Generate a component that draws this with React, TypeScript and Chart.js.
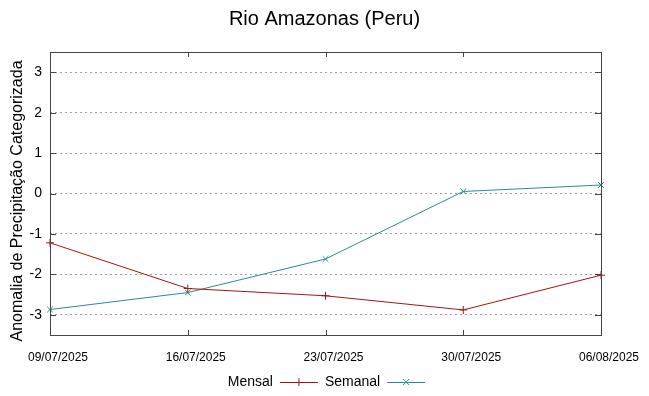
import React, { useEffect, useRef } from "react";
import { Chart, registerables } from "chart.js";

Chart.register(...registerables);

const categories = ["09/07/2025", "16/07/2025", "23/07/2025", "30/07/2025", "06/08/2025"];
const mensalValues = [-1.22, -2.35, -2.53, -2.88, -2.02];
const semanalValues = [-2.87, -2.45, -1.62, 0.05, 0.21];
const yTicks = [-3, -2, -1, 0, 1, 2, 3];

const TITLE = "Rio Amazonas (Peru)";
const Y_TITLE = "Anomalia de Precipitação Categorizada";
const FONT = "'Liberation Sans', Arial, sans-serif";
const RED = "#a31515";
const TEAL = "#2b8c8c";

const framePlugin = {
  id: "frame",
  afterDraw(chart: any) {
    const ctx = chart.ctx;
    const a = chart.chartArea;
    const xs = chart.scales.x;
    const ys = chart.scales.y;
    ctx.save();
    ctx.strokeStyle = "#444";
    ctx.lineWidth = 1;
    ctx.strokeRect(Math.round(a.left) + 0.5, Math.round(a.top) + 0.5, Math.round(a.right - a.left), Math.round(a.bottom - a.top));
    ctx.beginPath();
    yTicks.forEach((v) => {
      const y = Math.round(ys.getPixelForValue(v)) + 0.5;
      ctx.moveTo(a.left, y);
      ctx.lineTo(a.left + 6, y);
      ctx.moveTo(a.right, y);
      ctx.lineTo(a.right - 6, y);
    });
    categories.forEach((_, i) => {
      const x = Math.round(xs.getPixelForTick(i)) + 0.5;
      ctx.moveTo(x, a.bottom);
      ctx.lineTo(x, a.bottom - 5);
      ctx.moveTo(x, a.top);
      ctx.lineTo(x, a.top + 5);
    });
    ctx.stroke();

    ctx.fillStyle = "#000";
    ctx.font = "20px " + FONT;
    ctx.textAlign = "center";
    ctx.textBaseline = "middle";
    ctx.fillText(TITLE, chart.width / 2, 19);

    ctx.save();
    ctx.translate(18, 201);
    ctx.rotate(-Math.PI / 2);
    ctx.font = "16px " + FONT;
    ctx.fillText(Y_TITLE, 0, 0);
    ctx.restore();

    ctx.font = "14px " + FONT;
    const sample = 38;
    const gap = 7;
    const items = chart.data.datasets.map((d: any) => ({
      label: d.label,
      color: d.borderColor,
      style: d.pointStyle,
      w: ctx.measureText(d.label).width,
    }));
    const total = items.reduce((s: number, it: any) => s + it.w + gap + sample, 0) + gap * (items.length - 1);
    let x = chart.width / 2 - total / 2 + 2;
    const ly = 382;
    items.forEach((it: any) => {
      ctx.fillStyle = "#000";
      ctx.textAlign = "left";
      ctx.fillText(it.label, x, ly);
      x += it.w + gap;
      ctx.strokeStyle = it.color;
      ctx.lineWidth = 1;
      ctx.beginPath();
      ctx.moveTo(x, ly + 0.5);
      ctx.lineTo(x + sample, ly + 0.5);
      const cx = x + sample / 2;
      const r = 4;
      if (it.style === "cross") {
        ctx.moveTo(cx, ly - r);
        ctx.lineTo(cx, ly + r);
      } else {
        ctx.moveTo(cx - r * 0.75, ly - r * 0.75);
        ctx.lineTo(cx + r * 0.75, ly + r * 0.75);
        ctx.moveTo(cx + r * 0.75, ly - r * 0.75);
        ctx.lineTo(cx - r * 0.75, ly + r * 0.75);
      }
      ctx.stroke();
      x += sample + gap;
    });
    ctx.restore();
  },
};

export default function App() {
  const ref = useRef<HTMLCanvasElement | null>(null);
  useEffect(() => {
    document.body.style.margin = "0";
    const c = new Chart(ref.current as HTMLCanvasElement, {
      type: "line",
      data: {
        labels: categories,
        datasets: [
          {
            label: "Mensal",
            data: mensalValues,
            borderColor: RED,
            backgroundColor: RED,
            borderWidth: 1,
            pointStyle: "cross",
            pointRadius: 4,
            pointBorderWidth: 1,
            tension: 0,
          },
          {
            label: "Semanal",
            data: semanalValues,
            borderColor: TEAL,
            backgroundColor: TEAL,
            borderWidth: 1,
            pointStyle: "crossRot",
            pointRadius: 4,
            pointBorderWidth: 1,
            tension: 0,
          },
        ],
      },
      options: {
        animation: false,
        responsive: true,
        maintainAspectRatio: false,
        layout: { padding: { top: 52, right: 48, bottom: 0, left: 0 } },
        plugins: {
          legend: { display: false },
          title: { display: false },
          tooltip: { enabled: false },
        },
        scales: {
          x: {
            type: "category",
            offset: false,
            grid: { display: false, drawTicks: false },
            border: { display: false },
            ticks: {
              color: "#000",
              font: { family: FONT, size: 12 },
              padding: 15,
              labelOffset: 8,
              maxRotation: 0,
              autoSkip: false,
            },
            afterFit(scale: any) {
              scale.height = 61;
            },
          },
          y: {
            min: -3.5,
            max: 3.5,
            afterBuildTicks(scale: any) {
              scale.ticks = yTicks.map((v) => ({ value: v }));
            },
            grid: {
              color: "#a0a0a0",
              lineWidth: 1,
              drawTicks: false,
            },
            border: { display: false, dash: [2, 3] },
            ticks: {
              color: "#000",
              font: { family: FONT, size: 14 },
              padding: 8,
            },
            afterFit(scale: any) {
              scale.width = 50;
            },
          },
        },
      },
      plugins: [framePlugin],
    });
    return () => c.destroy();
  }, []);
  return (
    <div style={{ position: "absolute", left: 0, top: 0, width: 649, height: 396 }}>
      <canvas ref={ref} />
    </div>
  );
}
